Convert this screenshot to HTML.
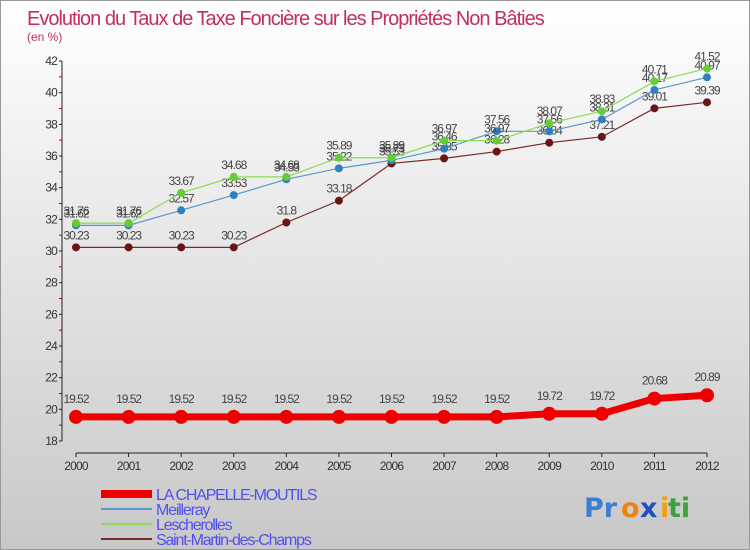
<!DOCTYPE html>
<html><head><meta charset="utf-8"><style>
body{margin:0}
#c{width:750px;height:550px;position:relative;background:linear-gradient(#ffffff,#c8c8c8);border:1px solid #999;box-sizing:border-box;font-family:"Liberation Sans",sans-serif;overflow:hidden}
</style></head><body>
<div id="c">
<svg id="s" width="750" height="550" style="position:absolute;left:0;top:0">
<text x="26" y="24" font-size="20" fill="#c0305a" letter-spacing="-1">Evolution du Taux de Taxe Foncière sur les Propriétés Non Bâties</text>
<text x="26" y="40" font-size="12" fill="#c0305a">(en %)</text>
<g id="axes"></g><g id="series"></g><g id="legend"></g>
<g font-size="27" font-weight="bold" font-family="'DejaVu Sans',sans-serif">
<text x="583" y="516" fill="#3a7fd0">Pr</text><text x="620" y="516" fill="#f08010">o</text><text x="639" y="516" fill="#2050c0">x</text><text x="659" y="516" fill="#f0a010">i</text><text x="667" y="516" fill="#40a040">ti</text>
</g>
</svg>
</div>
<script>
const years=[2000,2001,2002,2003,2004,2005,2006,2007,2008,2009,2010,2011,2012];
const yTicks=[18,20,22,24,26,28,30,32,34,36,38,40,42];
const chapelle=[19.52,19.52,19.52,19.52,19.52,19.52,19.52,19.52,19.52,19.72,19.72,20.68,20.89];
const meilleray=[31.62,31.62,32.57,33.53,34.53,35.22,35.73,36.46,37.56,37.56,38.31,40.17,40.97];
const lescherolles=[31.76,31.76,33.67,34.68,34.68,35.89,35.89,36.97,36.97,38.07,38.83,40.71,41.52];
const stmartin=[30.23,30.23,30.23,30.23,31.8,33.18,35.53,35.85,36.28,36.84,37.21,39.01,39.39];
const NS="http://www.w3.org/2000/svg";
const X=i=>75+i*(706-75)/(years.length-1);
const Y=v=>440-(v-18)*(380/24);
function mk(t,a,p){const e=document.createElementNS(NS,t);for(const k in a)e.setAttribute(k,a[k]);p.appendChild(e);return e;}
const ax=document.getElementById('axes');
const yl=mk('line',{x1:61,y1:60,x2:61,y2:440,stroke:'#222'},ax);


const xl=mk('line',{x1:75,y1:452,x2:706,y2:452,stroke:'#222'},ax);


yTicks.forEach((v,i)=>{
 mk('line',{x1:58,y1:Y(v),x2:61,y2:Y(v),stroke:'#222'},ax);
 if(i<yTicks.length-1) mk('line',{x1:58,y1:Y(v+1),x2:61,y2:Y(v+1),stroke:'#c00'},ax);
 const t=mk('text',{x:56,y:Y(v)+4,'text-anchor':'end','font-size':12,fill:'#333','letter-spacing':'-0.8'},ax);
 t.textContent=v;
 
 
});
years.forEach((y,i)=>{
 mk('line',{x1:X(i),y1:452,x2:X(i),y2:456,stroke:'#222'},ax);
 const t=mk('text',{x:X(i),y:469,'text-anchor':'middle','font-size':12,fill:'#333','letter-spacing':'-0.8'},ax);
 t.textContent=y;
 
 
});
const sg=document.getElementById('series');
function series(data,color,dot,w,r,name){
 const g=mk('g',{},sg);
 
 
 mk('polyline',{points:data.map((v,i)=>X(i)+','+Y(v)).join(' '),fill:'none',stroke:color,'stroke-width':w},g);
 data.forEach((v,i)=>{
  const c=mk('circle',{cx:X(i),cy:Y(v),r:r,fill:dot},g);
  
  
  const t=mk('text',{x:X(i),y:Y(v)-(w>3?14:8),'text-anchor':'middle','font-size':12,fill:'#444','letter-spacing':'-1'},g);
  t.textContent=v;
  
  
 });
}
series(stmartin,'#7a2a2a','#6a1515',1.2,4,'saint-martin');
series(meilleray,'#5599cc','#3080c0',1.2,4,'meilleray');
series(lescherolles,'#88dd55','#66cc33',1.2,4,'lescherolles');
series(chapelle,'#ee0000','#ee0000',7,7,'la-chapelle');
const lg=document.getElementById('legend');
const items=[['LA CHAPELLE-MOUTILS','#ee0000',8],['Meilleray','#5599cc',2],['Lescherolles','#88dd55',2],['Saint-Martin-des-Champs','#7a2a2a',2]];
const ly=[493,508,523,538];
items.forEach((it,i)=>{
 const g=mk('g',{},lg);
 
 
 mk('line',{x1:100,y1:ly[i],x2:151,y2:ly[i],stroke:it[1],'stroke-width':it[2]},g);
 const t=mk('text',{x:155,y:ly[i]+6,'font-size':16,fill:'#5050ee','letter-spacing':'-1.2'},g);
 t.textContent=it[0];
});
</script>
</body></html>
